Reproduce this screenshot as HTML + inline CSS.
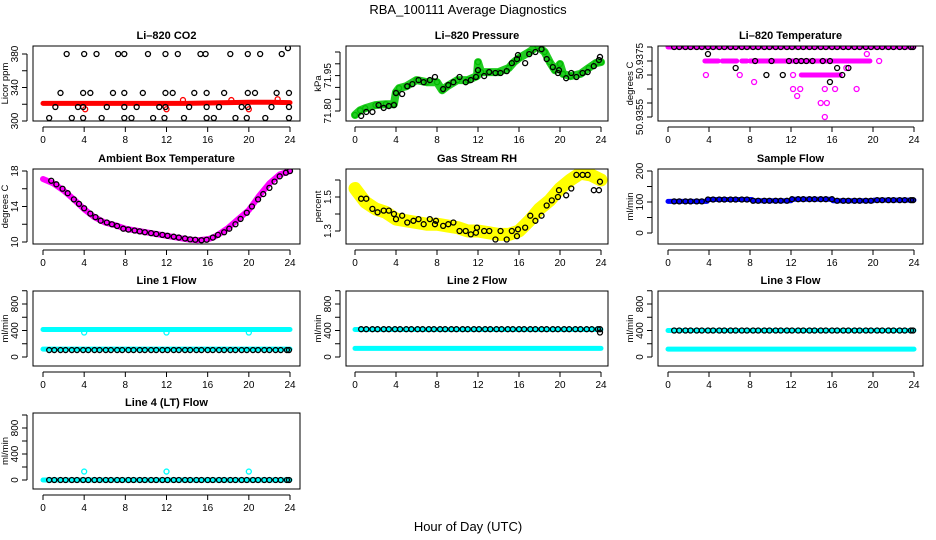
<!DOCTYPE html>
<html><head><meta charset="utf-8"><style>
html,body{margin:0;padding:0;background:#fff;}
svg{display:block;font-family:"Liberation Sans",sans-serif;}
</style></head><body>
<svg id="chart" width="936" height="540" viewBox="0 0 936 540" xmlns="http://www.w3.org/2000/svg">
<text x="468" y="14" font-size="13" text-anchor="middle">RBA_100111  Average Diagnostics</text>
<text x="468" y="531" font-size="13" text-anchor="middle">Hour of Day (UTC)</text>
</svg>
<script>
// ---------- data ----------
const xTicks = [0,4,8,12,16,20,24];
const blackHours = [0.6,1.1,1.7,2.2,2.8,3.3,3.9,4.4,5.0,5.5,6.1,6.6,7.2,7.7,8.3,8.8,9.4,9.9,10.5,11.0,11.6,12.1,12.7,13.2,13.8,14.3,14.9,15.4,16.0,16.5,17.1,17.6,18.2,18.7,19.3,19.8,20.4,20.9,21.5,22.0,22.6,23.1,23.7,23.9];

// CO2
const co2RedH = [0,2,4,6,8,10,12,14,16,18,20,22,24];
const co2RedV = [321,321,321,321,321,321,321,321,321.5,322,322.5,322.5,322];
const co2RedCircH = [4.1,12.0,13.6,18.3,20.0,22.8];
const co2RedCircV = [314,314,325,325,314,326];
const co2H380 = [2.3,4.0,5.2,7.3,7.9,10.2,11.9,13.1,15.3,15.8,18.2,19.9,21.1,23.2];
const co2H333 = [1.7,3.9,4.6,6.8,7.9,9.7,11.9,12.6,14.7,15.9,17.6,19.9,20.6,22.7,23.9];
const co2H317 = [1.2,3.4,3.9,6.2,7.9,9.1,11.3,11.9,14.2,15.9,17.1,19.3,19.9,22.2,23.9];
const co2H303 = [0.6,2.8,3.9,5.7,7.9,8.6,10.7,11.8,13.7,15.9,16.6,18.7,19.8,21.6,23.9];
const co2Levels = [380,333.5,316.7,303.6];
const co2Extra = [[23.8,387]];

// Pressure
const presBandH = [0,0.5,1,2,3,3.8,4,4.3,5,6,7,8,8.5,9,10,11,11.9,12,12.3,13,14,15,15.5,16,17,17.8,18.5,19,19.5,20,20.3,21,22,22.8,23.5,24];
const presBandV = [71.783,71.803,71.812,71.825,71.829,71.829,71.880,71.897,71.905,71.931,71.922,71.922,71.888,71.905,71.931,71.931,71.948,72.007,71.965,71.965,71.965,71.982,72.007,72.024,72.050,72.075,72.050,72.007,71.973,71.999,71.957,71.948,71.957,71.982,72.003,72.007];
const presBlkH = [0.6,1.1,1.7,2.3,2.8,3.3,3.8,4.0,4.6,5.1,5.6,6.2,6.7,7.3,7.8,8.6,9.1,9.6,10.2,10.8,11.3,11.8,12.0,12.6,13.1,13.7,14.2,14.8,15.3,15.8,15.9,16.6,17.0,17.6,18.2,18.7,19.3,19.8,19.9,20.6,21.1,21.6,22.2,22.7,23.3,23.8,23.9];
const presBlkV = [71.779,71.796,71.796,71.825,71.813,71.821,71.825,71.876,71.872,71.905,71.914,71.931,71.922,71.931,71.944,71.893,71.910,71.922,71.944,71.922,71.931,71.944,71.973,71.948,71.965,71.961,71.961,71.969,72.003,72.020,72.037,72.003,72.041,72.050,72.062,72.020,71.986,71.961,71.973,71.939,71.961,71.944,71.961,71.965,71.990,72.016,72.029];

// Li-820 temperature (discrete levels)
const tmpTopV = 50.938;
const tmpMagSegStart = [3.6,5.3,7.2,8.0,19.0,13.0];
const tmpMagSegEnd   = [4.9,6.7,7.7,18.9,19.7,16.8];
const tmpMagSegV     = [50.9375,50.9375,50.9375,50.9375,50.9375,50.937];
const tmpMagPtH = [20.6,19.4,17.4,3.7,7.0,12.2,8.4,12.2,12.9,15.3,16.3,18.4,12.6,14.9,15.5,15.3];
const tmpMagPtV = [50.9375,50.93775,50.93725,50.937,50.937,50.937,50.93675,50.9365,50.9365,50.9365,50.9365,50.9365,50.93625,50.936,50.936,50.9355];
const tmpBlkH = [8.5,10.1,11.8,12.5,13.0,13.5,14.1,15.1,15.8,3.9,6.6,16.5,17.6,9.6,11.2,17.0,15.8];
const tmpBlkV = [50.9375,50.9375,50.9375,50.9375,50.9375,50.9375,50.9375,50.9375,50.9375,50.93775,50.93725,50.93725,50.93725,50.937,50.937,50.937,50.93675];

// Ambient box temperature
const ambH = [0,1,2,3,4,5,6,7,8,9,10,11,12,13,14,15,16,16.5,17,18,19,20,21,22,23,24];
const ambV = [17.1,16.6,15.8,14.8,13.7,12.8,12.2,11.9,11.5,11.3,11.1,10.9,10.7,10.5,10.3,10.2,10.3,10.5,10.8,11.6,12.6,13.6,15.2,16.6,17.6,18.0];
const ambBlkH = [0.8,1.3,1.9,2.4,3.0,3.5,4.0,4.6,5.1,5.6,6.2,6.7,7.2,7.8,8.3,8.9,9.4,9.9,10.5,11.0,11.6,12.1,12.7,13.2,13.8,14.3,14.8,15.4,15.9,16.5,17.0,17.6,18.1,18.7,19.2,19.8,20.3,20.9,21.4,22.0,22.5,23.0,23.6,24.0];
const ambBlkV = [16.9,16.5,16.0,15.5,14.8,14.3,13.8,13.2,12.8,12.4,12.2,12.0,11.8,11.5,11.4,11.3,11.2,11.1,11.0,10.9,10.8,10.7,10.6,10.5,10.4,10.3,10.25,10.2,10.25,10.5,10.8,11.1,11.5,12.0,12.6,13.3,14.0,14.8,15.4,16.1,16.8,17.4,17.8,18.0];

// Gas stream RH
const rhH = [0,1,2,3,4,5,6,7,8,9,10,11,12,13,14,15,16,17,18,19,20,21,22,23,24];
const rhV = [1.55,1.47,1.43,1.41,1.37,1.36,1.35,1.34,1.34,1.33,1.32,1.30,1.30,1.29,1.28,1.28,1.30,1.36,1.43,1.48,1.55,1.60,1.64,1.63,1.60];
const rhBlkH = [0.6,1.1,1.7,2.2,2.8,3.3,3.8,4.0,4.6,5.1,5.7,6.2,6.7,7.3,7.8,7.9,8.6,9.1,9.6,10.2,10.8,11.3,11.8,11.9,12.6,13.1,13.7,14.2,14.8,15.3,15.8,15.9,16.6,17.1,17.6,18.2,18.7,19.2,19.8,19.9,20.6,21.1,21.6,22.2,22.7,23.3,23.8,23.9];
const rhBlkV = [1.49,1.49,1.43,1.41,1.42,1.42,1.40,1.37,1.39,1.35,1.36,1.37,1.34,1.37,1.34,1.36,1.33,1.34,1.35,1.30,1.30,1.28,1.29,1.32,1.30,1.30,1.25,1.30,1.25,1.30,1.27,1.31,1.32,1.39,1.36,1.39,1.45,1.48,1.50,1.54,1.51,1.55,1.63,1.63,1.63,1.54,1.54,1.59];

// Sample flow
const sfH = [0,3.8,3.9,8.2,8.3,12,12.1,16,16.1,20,20.1,24];
const sfV = [102,102,108,108,104,104,109,109,104,104,106,106];

// Line flows
const l1Cyan = [415,120]; const l1Black = 105; const l1DipH = [4,12,20]; const l1DipV = [370,370,370];
const l2Cyan = [415,130]; const l2Black = 420; const l2EndV = 370;
const l3Cyan = [400,120]; const l3Black = 400;
const l4Cyan = [0]; const l4Black = 0; const l4SpikeH = [4,12,20]; const l4SpikeV = [130,130,130];

// ---------- drawing ----------
const NS='http://www.w3.org/2000/svg';
const svg=document.getElementById('chart');
function mk(tag,attrs,parent){const e=document.createElementNS(NS,tag);for(const k in attrs)e.setAttribute(k,attrs[k]);(parent||svg).appendChild(e);return e;}

const cols=[{l:33,r:300,x0:43,x24:290},{l:346,r:608,x0:355,x24:601},{l:658,r:923,x0:668,x24:914}];
const rows=[{t:46,b:121},{t:169,b:244},{t:291,b:366},{t:413,b:489}];

function panel(name,title,ci,ri,ylab,ycal,yTicks,yLabels){
  const c=cols[ci],r=rows[ri];
  const g=mk('g',{});
  
  
  const xs=h=>c.x0+(h/24)*(c.x24-c.x0);
  const ys=v=>ycal[1]+(v-ycal[0])*(ycal[3]-ycal[1])/(ycal[2]-ycal[0]);
  const plot=mk('g',{},g);
  const clipId='clip'+ci+ri;
  const cp=mk('clipPath',{id:clipId},g);mk('rect',{x:c.l,y:r.t,width:c.r-c.l,height:r.b-r.t},cp);
  plot.setAttribute('clip-path','url(#'+clipId+')');
  const frame=mk('rect',{x:c.l,y:r.t,width:c.r-c.l,height:r.b-r.t,fill:'none',stroke:'#000','stroke-width':1},g);
  
  
  const t=mk('text',{x:(c.l+c.r)/2,y:r.t-7,'font-size':11,'font-weight':'bold','text-anchor':'middle'},g);
  t.textContent=title;
  
  
  const xa=mk('g',{},g);
  
  
  mk('line',{x1:xs(xTicks[0]),x2:xs(xTicks[xTicks.length-1]),y1:r.b+6,y2:r.b+6,stroke:'#000'},xa);
  xTicks.forEach(v=>{mk('line',{x1:xs(v),x2:xs(v),y1:r.b+6,y2:r.b+11,stroke:'#000'},xa);
    const tt=mk('text',{x:xs(v),y:r.b+22,'font-size':10,'text-anchor':'middle'},xa);tt.textContent=String(v);});
  const ya=mk('g',{},g);
  
  
  const ax=c.l-6;
  mk('line',{x1:ax,x2:ax,y1:ys(yTicks[0]),y2:ys(yTicks[yTicks.length-1]),stroke:'#000'},ya);
  yTicks.forEach(v=>mk('line',{x1:ax-5,x2:ax,y1:ys(v),y2:ys(v),stroke:'#000'},ya));
  yLabels.forEach(([v,s])=>{const tt=mk('text',{x:ax-9,y:ys(v),'font-size':10,'text-anchor':'middle',transform:`rotate(-90 ${ax-9} ${ys(v)})`},ya);tt.textContent=s;});
  const yl=mk('text',{x:c.l-25,y:(r.t+r.b)/2,'font-size':9.5,'text-anchor':'middle',transform:`rotate(-90 ${c.l-25} ${(r.t+r.b)/2})`},g);
  yl.textContent=ylab;
  
  
  return {g:plot,xs,ys};
}
function band(P,H,V,color,w,nm){
  const pts=H.map((h,i)=>P.xs(h).toFixed(1)+','+P.ys(V[i]).toFixed(1)).join(' ');
  const e=mk('polyline',{points:pts,fill:'none',stroke:color,'stroke-width':w,'stroke-linejoin':'round','stroke-linecap':'round'},P.g);
  
  
}
function circles(P,H,V,color,nm){
  const g=mk('g',{},P.g);
  
  
  H.forEach((h,i)=>mk('circle',{cx:P.xs(h),cy:P.ys(Array.isArray(V)?V[i]:V),r:2.5,fill:'none',stroke:color,'stroke-width':1.3},g));
}
function hline(P,v,color,w,nm,h0,h1){
  band(P,[h0===undefined?0:h0,h1===undefined?24:h1],[v,v],color,w,nm);
}

let P=panel('co2-panel','Li\u2013820 CO2',0,0,'Licor ppm',[300,121,380,54],[300,320,340,360,380],[[300,'300'],[340,'340'],[380,'380']]);
band(P,co2RedH,co2RedV,'#ff0000',5,'co2-red-band');
circles(P,co2RedCircH,co2RedCircV,'#ff0000','co2-red-points');
circles(P,co2H380,co2Levels[0],'#000','co2-black-380');
circles(P,co2H333,co2Levels[1],'#000','co2-black-333');
circles(P,co2H317,co2Levels[2],'#000','co2-black-317');
circles(P,co2H303,co2Levels[3],'#000','co2-black-303');
circles(P,co2Extra.map(d=>d[0]),co2Extra.map(d=>d[1]),'#000','co2-black-extra');

P=panel('pressure-panel','Li\u2013820 Pressure',1,0,'kPa',[71.80,111,72.05,52],[71.80,71.85,71.90,71.95,72.00,72.05],[[71.80,'71.80'],[71.95,'71.95']]);
band(P,presBandH,presBandV,'#22cc22',8,'pressure-green-band');
circles(P,presBandH,presBandV,'#00bb00','pressure-green-points');
circles(P,presBlkH,presBlkV,'#000','pressure-black-points');

P=panel('li820-temp-panel','Li\u2013820 Temperature',2,0,'degrees C',[50.938,47,50.9355,117],[50.938,50.9375,50.937,50.9365,50.936,50.9355],[[50.9375,'50.9375'],[50.9355,'50.9355']]);
hline(P,tmpTopV,'#ff00ff',5,'temp-top-band');
tmpMagSegStart.forEach((s,i)=>hline(P,tmpMagSegV[i],'#ff00ff',5,'temp-magenta-seg-'+i,s,tmpMagSegEnd[i]));
circles(P,tmpMagPtH,tmpMagPtV,'#ff00ff','temp-magenta-points');
circles(P,blackHours,tmpTopV,'#000','temp-black-top');
circles(P,tmpBlkH,tmpBlkV,'#000','temp-black-points');

P=panel('ambient-temp-panel','Ambient Box Temperature',0,1,'degrees C',[10,242,18,171],[10,12,14,16,18],[[10,'10'],[14,'14'],[18,'18']]);
band(P,ambH,ambV,'#ff00ff',6,'ambient-magenta-band');
circles(P,ambBlkH,ambBlkV,'#000','ambient-black-points');

P=panel('rh-panel','Gas Stream RH',1,1,'percent',[1.3,231,1.5,197],[1.3,1.4,1.5,1.6],[[1.3,'1.3'],[1.5,'1.5']]);
band(P,rhH,rhV,'#ffff00',13,'rh-yellow-band');
circles(P,rhBlkH,rhBlkV,'#000','rh-black-points');

P=panel('sample-flow-panel','Sample Flow',2,1,'ml/min',[0,233,200,171],[0,50,100,150,200],[[0,'0'],[100,'100'],[200,'200']]);
band(P,sfH,sfV,'#0000ff',5,'sample-flow-blue-band');
circles(P,blackHours,blackHours.map(h=>{let v=sfV[0];sfH.forEach((hh,i)=>{if(h>=hh)v=sfV[i];});return v;}),'#000','sample-flow-black-points');

const flowTicks=[0,200,400,600,800,1000];
const flowLabels=[[0,'0'],[400,'400'],[800,'800']];
P=panel('line1-flow-panel','Line 1 Flow',0,2,'ml/min',[0,357,800,304],flowTicks,flowLabels);
l1Cyan.forEach((v,i)=>hline(P,v,'#00ffff',5,'line1-cyan-band-'+i));
circles(P,l1DipH,l1DipV,'#00ffff','line1-cyan-dips');
circles(P,blackHours,l1Black,'#000','line1-black-points');
P=panel('line2-flow-panel','Line 2 Flow',1,2,'ml/min',[0,357,800,304],flowTicks,flowLabels);
l2Cyan.forEach((v,i)=>hline(P,v,'#00ffff',5,'line2-cyan-band-'+i));
circles(P,blackHours,l2Black,'#000','line2-black-points');
circles(P,[23.9],[l2EndV],'#000','line2-black-end');
P=panel('line3-flow-panel','Line 3 Flow',2,2,'ml/min',[0,357,800,304],flowTicks,flowLabels);
l3Cyan.forEach((v,i)=>hline(P,v,'#00ffff',5,'line3-cyan-band-'+i));
circles(P,blackHours,l3Black,'#000','line3-black-points');
P=panel('line4-flow-panel','Line 4 (LT) Flow',0,3,'ml/min',[0,480,800,428],flowTicks,flowLabels);
l4Cyan.forEach((v,i)=>hline(P,v,'#00ffff',5,'line4-cyan-band-'+i));
circles(P,l4SpikeH,l4SpikeV,'#00ffff','line4-cyan-spikes');
circles(P,blackHours,l4Black,'#000','line4-black-points');
</script>
</body></html>
